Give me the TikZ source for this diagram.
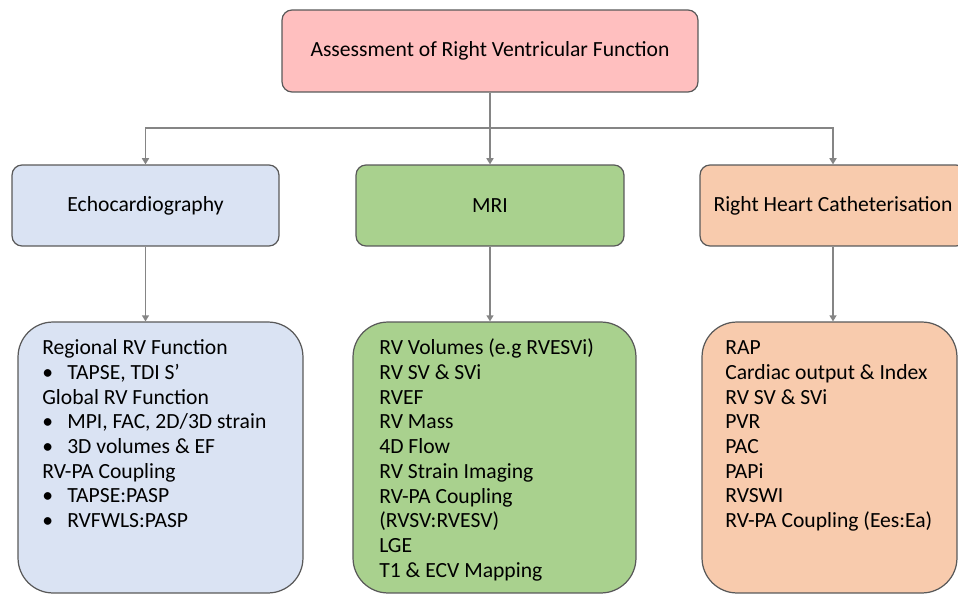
\documentclass[tikz,border=0pt]{standalone}
\usepackage{fontspec}
\setmainfont{Carlito}
\usetikzlibrary{positioning}
\usetikzlibrary{arrows.meta}
\definecolor{rootc}{HTML}{FFBFBF}
\definecolor{echoc}{HTML}{DAE3F3}
\definecolor{mric}{HTML}{A9D18E}
\definecolor{rhcc}{HTML}{F8CBAD}
\definecolor{edgec}{HTML}{595959}
\definecolor{linkc}{HTML}{858585}
\tikzset{
  headbox/.style={draw=edgec, line width=0.7pt, shape=rectangle, rounded corners=0.2cm, minimum height=1.62cm, font=\fontsize{12.3}{14}\selectfont},
  listbox/.style={draw=edgec, line width=0.7pt, shape=rectangle, rounded corners=0.7cm, minimum height=5.42cm},
  listtext/.style={anchor=base west, align=left, inner sep=0pt, font=\fontsize{12.3}{14.06}\selectfont},
  link/.style={draw=linkc, line width=1.1pt, -{Triangle[width=4pt,length=3.5pt]}},
}
\newcommand{\bul}{\makebox[14.2pt][l]{\textbullet}}

\begin{document}
\begin{tikzpicture}[x=0.02cm,y=-0.02cm]
\useasboundingbox (0,0) rectangle (958,598);
\clip (0,0) rectangle (958,598);

\node[headbox, fill=rootc, minimum width=8.32cm, minimum height=1.64cm]
(root) at (490,51) {Assessment of Right Ventricular Function};

\node[headbox, fill=echoc, minimum width=5.34cm] (echo) at (145.5,205.5) {Echocardiography};
\node[headbox, fill=mric, minimum width=5.36cm] (mri) at (490,205.5) {MRI};
\node[headbox, fill=rhcc, minimum width=5.32cm] (rhc) at (833,205.5) {Right Heart Catheterisation};

\node[listbox, fill=echoc, minimum width=5.7cm] (echobox) at (160.5,457.5) {};
\node[listbox, fill=mric, minimum width=5.66cm] (mribox) at (494.5,457.5) {};
\node[listbox, fill=rhcc, minimum width=5.1cm] (rhcbox) at (829.5,457.5) {};

% lists sit on the baseline of their last line
\node[listtext] (echolist) at (42,527.6) {Regional RV Function\\
\bul TAPSE, TDI S’\\
Global RV Function\\
\bul MPI, FAC, 2D/3D strain\\
\bul 3D volumes \& EF\\
RV-PA Coupling\\
\bul TAPSE:PASP\\
\bul RVFWLS:PASP};
\node[listtext] (mrilist) at (379,577.2) {RV Volumes (e.g RVESVi)\\
RV SV \& SVi\\
RVEF\\
RV Mass\\
4D Flow\\
RV Strain Imaging\\
RV-PA Coupling\\
(RVSV:RVESV)\\
LGE\\
T1 \& ECV Mapping};
\node[listtext] (rhclist) at (725,527.6) {RAP\\
Cardiac output \& Index\\
RV SV \& SVi\\
PVR\\
PAC\\
PAPi\\
RVSWI\\
RV-PA Coupling (Ees:Ea)};

\coordinate (bar) at (490,128);
\draw[link] (root.south) -- (bar) -| (echo.north);
\draw[link] (bar) -- (mri.north);
\draw[link] (bar) -| (rhc.north);

\draw[link] (echo.south) -- (echo.south |- echobox.north);
\draw[link] (mri.south) -- (mri.south |- mribox.north);
\draw[link] (rhc.south) -- (rhc.south |- rhcbox.north);

\end{tikzpicture}
\end{document}
